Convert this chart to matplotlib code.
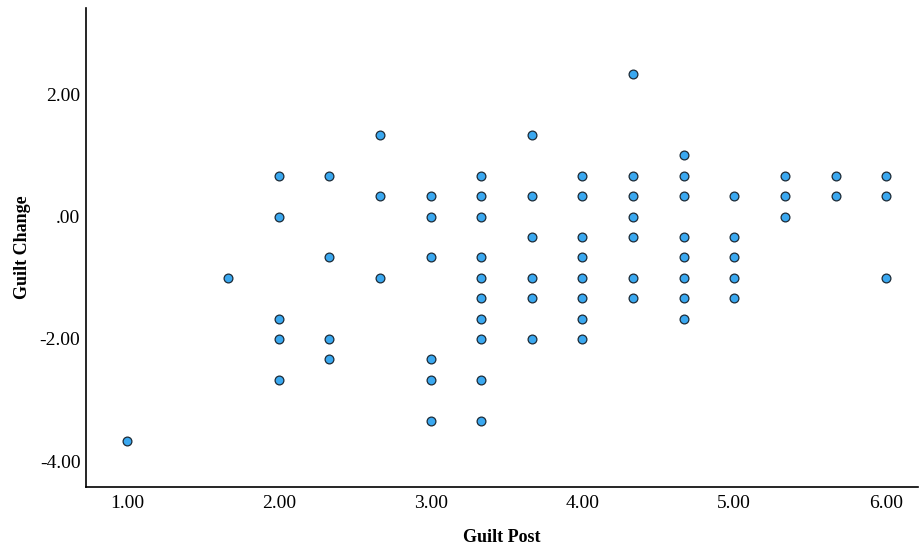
import matplotlib.pyplot as plt
import numpy as np

# Guilt Post (x) vs Guilt Change (y), one list of y values per x level
guilt_post = [1.0, 5/3, 2.0, 7/3, 8/3, 3.0, 10/3, 11/3, 4.0, 13/3, 14/3, 5.0, 16/3, 17/3, 6.0]
guilt_change = [
    [-11/3],
    [-1.0],
    [2/3, 0.0, -5/3, -2.0, -8/3],
    [2/3, -2/3, -2.0, -7/3],
    [4/3, 1/3, -1.0],
    [1/3, 0.0, -2/3, -7/3, -8/3, -10/3],
    [2/3, 1/3, 0.0, -2/3, -1.0, -4/3, -5/3, -2.0, -8/3, -10/3],
    [4/3, 1/3, -1/3, -1.0, -4/3, -2.0],
    [2/3, 1/3, -1/3, -2/3, -1.0, -4/3, -5/3, -2.0],
    [7/3, 2/3, 1/3, 0.0, -1/3, -1.0, -4/3],
    [1.0, 2/3, 1/3, -1/3, -2/3, -1.0, -4/3, -5/3],
    [1/3, -1/3, -2/3, -1.0, -4/3],
    [2/3, 1/3, 0.0],
    [2/3, 1/3],
    [2/3, 1/3, -1.0],
]

x = np.concatenate([[gp] * len(gc) for gp, gc in zip(guilt_post, guilt_change)])
y = np.concatenate(guilt_change)

plt.rcParams['font.family'] = ['Liberation Serif', 'DejaVu Serif']

fig = plt.figure(figsize=(9.21, 5.48), dpi=100)
ax = fig.add_axes([86/921, 61/548, 832/921, 479/548])
ax.scatter(x, y, s=40, color='#3aa8f0', edgecolors='#1c2a36', linewidths=0.9, zorder=3)

ax.set_xlim(0.73, 6.21)
ax.set_ylim(-4.42, 3.41)
ax.set_xticks([1, 2, 3, 4, 5, 6])
ax.set_xticklabels(['1.00', '2.00', '3.00', '4.00', '5.00', '6.00'])
ax.set_yticks([-4, -2, 0, 2])
ax.set_yticklabels(['-4.00', '-2.00', '.00', '2.00'])
ax.tick_params(length=0, labelsize=14)
ax.tick_params(axis='x', pad=6)
ax.tick_params(axis='y', pad=4)

ax.spines['top'].set_visible(False)
ax.spines['right'].set_visible(False)
ax.spines['left'].set_linewidth(1.2)
ax.spines['bottom'].set_linewidth(1.2)

ax.set_xlabel('Guilt Post', fontsize=13, fontweight='bold', labelpad=12)
ax.set_ylabel('Guilt Change', fontsize=13, fontweight='bold', labelpad=6)

plt.savefig('out.png', dpi=100)
